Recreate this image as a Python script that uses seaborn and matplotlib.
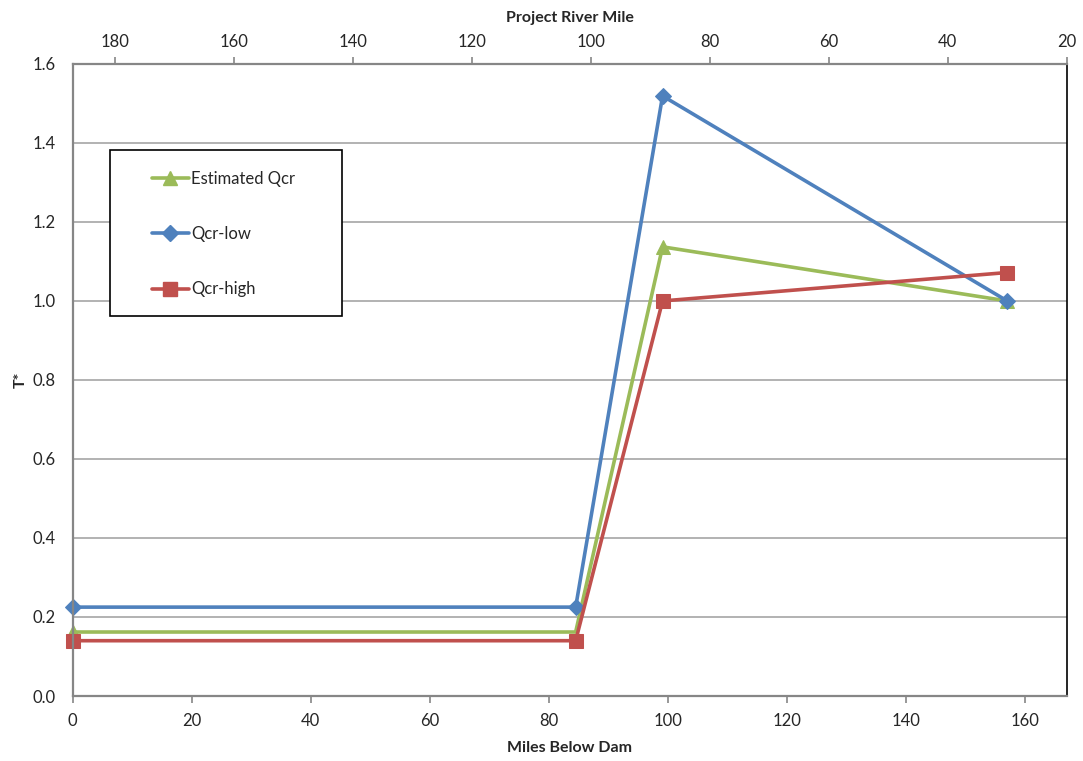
import matplotlib
matplotlib.use('agg')
import numpy as np
import pandas as pd
import seaborn as sns
import matplotlib.pyplot as plt
from matplotlib.patches import Rectangle

# data
miles = [0, 84.5, 99.1, 157.0]
est_qcr = [0.162, 0.162, 1.137, 1.0]
qcr_low = [0.225, 0.225, 1.519, 1.0]
qcr_high = [0.140, 0.140, 1.0, 1.072]
series_names = ["Estimated Qcr", "Qcr-low", "Qcr-high"]
y_ticks = [0.0, 0.2, 0.4, 0.6, 0.8, 1.0, 1.2, 1.4, 1.6]
x_ticks = [0, 20, 40, 60, 80, 100, 120, 140, 160]
rm_ticks = [180, 160, 140, 120, 100, 80, 60, 40, 20]


def main(output):
	sns.set_style("white")
	plt.rcParams['font.family'] = ['Lato', 'DejaVu Sans']

	fig = plt.figure(figsize=(10.83, 7.61), dpi=100)
	ax = fig.add_axes([0.0671, 0.0854, 0.985 - 0.0671, 0.916 - 0.0854])

	grey = "#868686"
	for y in y_ticks[1:]:
		ax.axhline(y, color="#a6a6a6", lw=1.2, zorder=0)

	styles = [
		(est_qcr, "#9BBB59", "^", 9.5),
		(qcr_low, "#4F81BD", "D", 8),
		(qcr_high, "#C0504D", "s", 9.5),
	]
	handles = []
	for (vals, col, mk, ms), name in zip(styles, series_names):
		sns.lineplot(x=miles, y=vals, ax=ax, sort=False, color=col, lw=2.6,
					 marker=mk, markersize=ms, markeredgecolor=col,
					 markevery=[0, 2, 3] if mk == "^" else None,
					 clip_on=False, label=name, legend=False)
		handles.append(plt.Line2D([], [], color=col, lw=2.6, marker=mk,
								  markersize=ms, markeredgecolor=col))

	ax.set_xlim(0, 167.0)
	ax.set_ylim(0, 1.6)
	ax.set_xticks(x_ticks)
	ax.set_yticks(y_ticks)
	ax.set_yticklabels([f"{v:.1f}" for v in y_ticks])
	ax.tick_params(axis='both', direction='out', length=5, width=1.2, color=grey,
				   labelsize=12, pad=7)
	ax.set_xlabel("Miles Below Dam", fontsize=11.5, fontweight='bold', labelpad=9)
	ax.set_ylabel("T*", fontsize=11.5, fontweight='bold', labelpad=4)

	for s in ["left", "bottom", "top"]:
		ax.spines[s].set_color(grey)
		ax.spines[s].set_linewidth(1.6)
	ax.spines["right"].set_color("black")
	ax.spines["right"].set_linewidth(1.2)

	top = ax.twiny()
	top.set_xlim(187.1, 20)
	top.set_xticks(rm_ticks)
	top.tick_params(axis='x', direction='out', length=5, width=1.2, color=grey,
					labelsize=12, pad=5)
	top.set_xlabel("Project River Mile", fontsize=11.5, fontweight='bold', labelpad=9)
	for s in top.spines.values():
		s.set_visible(False)

	# legend box
	fig.patches.append(Rectangle((110 / 1083, 1 - 316 / 761), 232 / 1083, 166 / 761,
								 transform=fig.transFigure, fill=True, facecolor="white",
								 edgecolor="black", lw=1.2, zorder=5))
	leg = fig.legend(handles, series_names, loc="upper left",
					 bbox_to_anchor=(152 / 1083, 1 - 171 / 761), frameon=False,
					 fontsize=12, handlelength=2.2, handletextpad=0.15,
					 labelspacing=2.35, borderaxespad=0, borderpad=0)
	leg.set_zorder(6)

	fig.savefig(output, dpi=100)


if __name__ == "__main__":
	main("out.png")
